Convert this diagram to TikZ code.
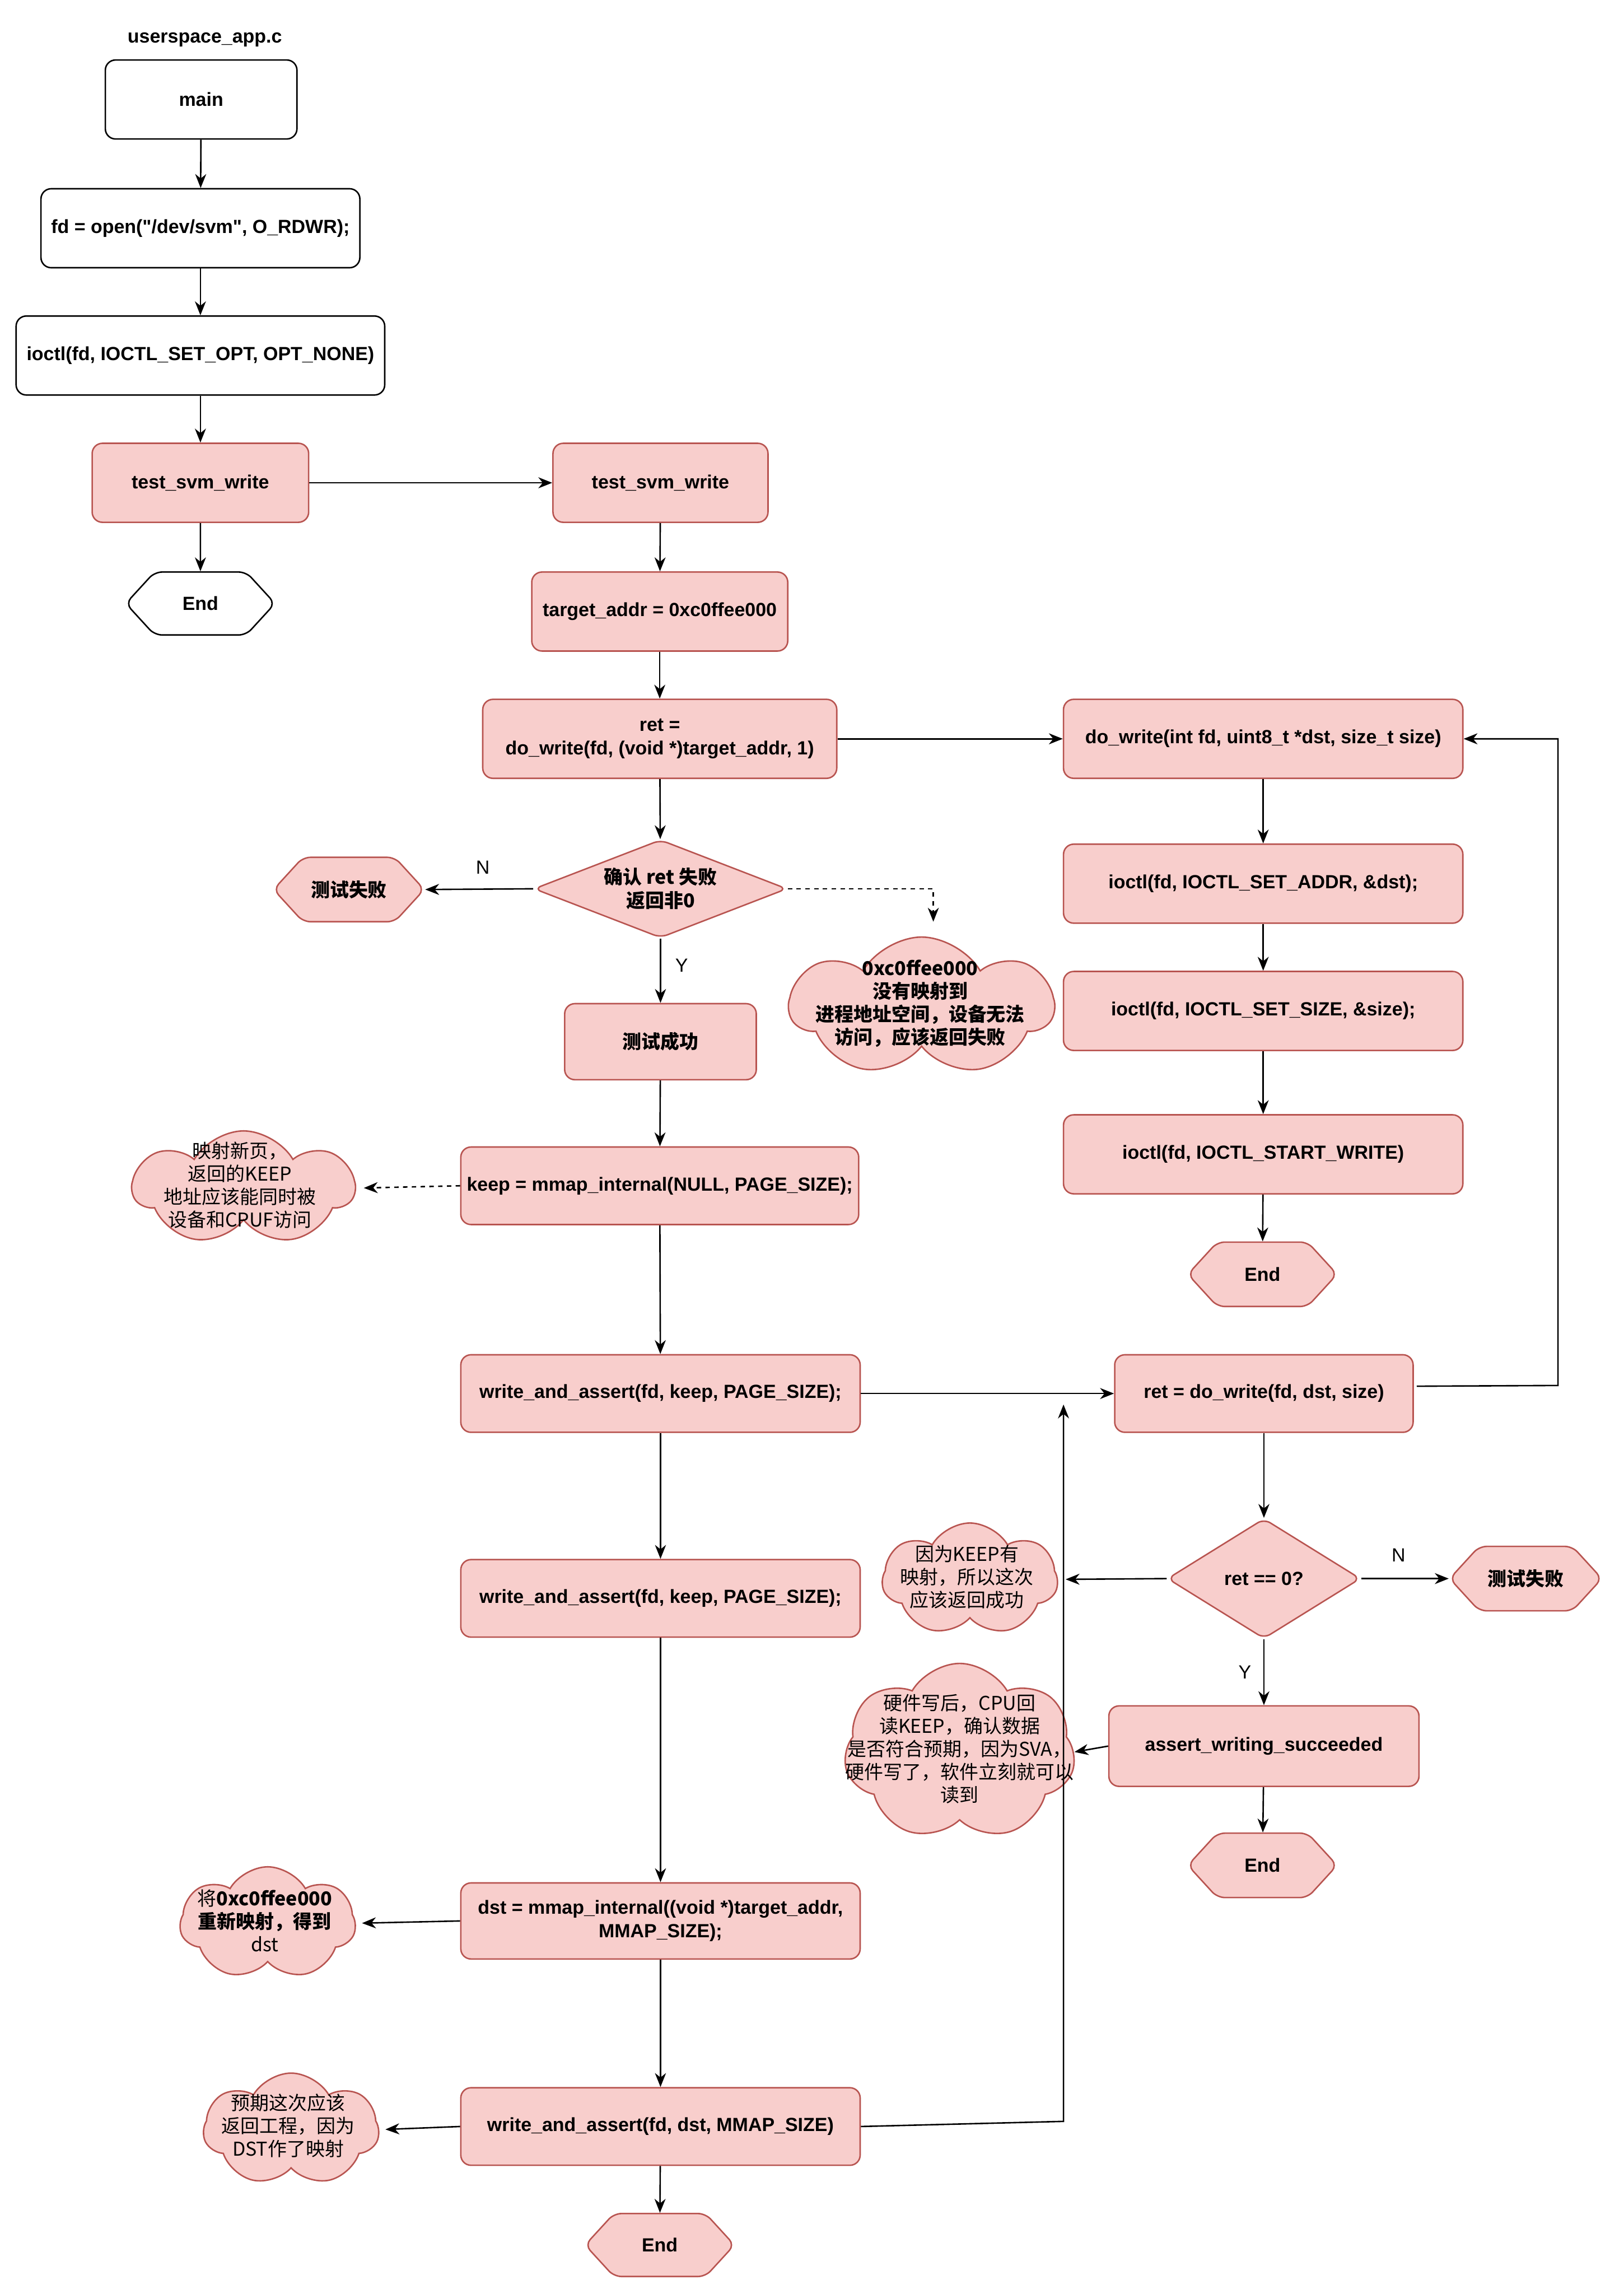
\documentclass[tikz,border=0pt]{standalone}
\usepackage{fontspec}
\setmainfont{Liberation Sans}
\newfontfamily\lat{Liberation Sans}
\newfontfamily\cjk{Noto Sans CJK SC}
\usetikzlibrary{shapes.geometric,shapes.symbols,arrows.meta,calc}
\definecolor{pfill}{HTML}{F8CECC}
\definecolor{pline}{HTML}{B85450}
\tikzset{
  sz/.style 2 args={minimum width=#1pt, minimum height=#2pt},
  fb/.style={font=\lat\fontsize{13}{16}\selectfont\bfseries},
  fcb/.style={font=\cjk\fontsize{13}{16}\selectfont\bfseries},
  base/.style={align=center, line width=1pt, inner sep=2pt},
  wbox/.style={base, fb, rectangle, draw=black, fill=white, rounded corners=7pt},
  pbox/.style={base, fb, rectangle, draw=pline, fill=pfill, rounded corners=7pt},
  hexa/.style={base, fb, signal, signal to=east and west, signal pointer angle=95, rounded corners=5pt},
  whex/.style={hexa, draw=black, fill=white},
  phex/.style={hexa, draw=pline, fill=pfill},
  pdia/.style={base, fcb, diamond, inner sep=0pt, draw=pline, fill=pfill, rounded corners=5pt},
  pcloud/.style={cloud, cloud puffs=7, cloud puff arc=120, cloud ignores aspect, draw=pline, fill=pfill, line width=1pt, inner sep=0pt},
  ctext/.style={font=\cjk\fontsize{13}{15.7}\selectfont, align=center, inner sep=0pt},
  ctextb/.style={font=\cjk\fontsize{13}{15.7}\selectfont\bfseries, align=center, inner sep=0pt},
  lbl/.style={font=\lat\fontsize{13}{15}\selectfont, inner sep=0pt},
  arr/.style={-{Stealth[length=9.5pt,width=7.5pt,inset=3pt]}, line width=1pt},
  darr/.style={arr, dashed, dash pattern=on 3pt off 3pt},
}
\begin{document}
\begin{tikzpicture}[x=1pt,y=-1pt]
\fill[white] (0,0) rectangle (1110,1568);
\useasboundingbox (0,0) rectangle (1110,1568);

% left column
\node[fb, inner sep=0pt] (title) at (140,27) {userspace\_app.c};
\node[wbox, sz={131}{54}] (main) at (137.5,68) {main};
\node[wbox, sz={218}{54}] (open) at (137,156) {fd = open("/dev/svm", O\_RDWR);};
\node[wbox, sz={252}{54}] (setopt) at (137,243) {ioctl(fd, IOCTL\_SET\_OPT, OPT\_NONE)};
\node[pbox, sz={148}{54}] (tsw1) at (137,330) {test\_svm\_write};
\node[whex, sz={102}{43}] (end1) at (137,412.5) {End};

% middle column
\node[pbox, sz={147}{54}] (tsw2) at (451.5,330) {test\_svm\_write};
\node[pbox, sz={175}{54}] (target) at (451,418) {target\_addr = 0xc0ffee000};
\node[pbox, sz={242}{54}] (retw) at (451,505) {ret =\\do\_write(fd, (void *)target\_addr, 1)};
\node[pdia, aspect=2.6, sz={173}{67}] (dia1) at (451.5,607.5) {确认 ret 失败\\返回非0};
\node[phex, fcb, sz={103}{44}] (fail1) at (238.5,608) {测试失败};
\node[lbl] (nl1) at (330,593) {N};
\node[lbl] (yl1) at (466,660) {Y};
\node[pbox, fcb, sz={131}{52}] (succ1) at (451.5,712) {测试成功};
\node[pbox, sz={272}{53}] (keep) at (451,810.5) {keep = mmap\_internal(NULL, PAGE\_SIZE);};
\node[pbox, sz={273}{53}] (wa1) at (451.5,952.5) {write\_and\_assert(fd, keep, PAGE\_SIZE);};
\node[pbox, sz={273}{53}] (wa2) at (451.5,1092.5) {write\_and\_assert(fd, keep, PAGE\_SIZE);};
\node[pbox, sz={273}{52}] (dstm) at (451.5,1313) {dst = mmap\_internal((void *)target\_addr,\\MMAP\_SIZE);};
\node[pbox, sz={273}{53}] (wa3) at (451.5,1453.5) {write\_and\_assert(fd, dst, MMAP\_SIZE)};
\node[phex, sz={102}{43}] (end4) at (451,1534.5) {End};

% right column
\node[pbox, sz={273}{54}] (dowr) at (863.5,505) {do\_write(int fd, uint8\_t *dst, size\_t size)};
\node[pbox, sz={273}{54}] (sadr) at (863.5,604) {ioctl(fd, IOCTL\_SET\_ADDR, \&dst);};
\node[pbox, sz={273}{54}] (ssz) at (863.5,691) {ioctl(fd, IOCTL\_SET\_SIZE, \&size);};
\node[pbox, sz={273}{54}] (sw) at (863.5,789) {ioctl(fd, IOCTL\_START\_WRITE)};
\node[phex, sz={102}{44}] (end2) at (863,871) {End};
\node[pbox, sz={204}{53}] (rdw) at (864,952.5) {ret = do\_write(fd, dst, size)};
\node[pdia, fb, aspect=1.6, sz={132}{82}] (dia2) at (864,1079) {ret == 0?};
\node[phex, fcb, sz={104}{44}] (fail2) at (1043,1079) {测试失败};
\node[lbl] (nl2) at (956,1063) {N};
\node[lbl] (yl2) at (851,1143) {Y};
\node[pbox, sz={212}{55}] (asrt) at (864,1193.5) {assert\_writing\_succeeded};
\node[phex, sz={102}{44}] (end3) at (863,1275) {End};

% clouds
\node[pcloud, sz={180}{95}] (c1) at (630,688) {};
\node[ctextb] (c1t) at (629,686) {0xc0ffee000\\没有映射到\\进程地址空间，设备无法\\访问，应该返回失败};
\node[pcloud, sz={151}{78}] (c2) at (166.5,812) {};
\node[ctext] (c2t) at (164,810) {映射新页，\\返回的KEEP\\地址应该能同时被\\设备和CPUF访问};
\node[pcloud, sz={120}{77}] (c3) at (663,1079.5) {};
\node[ctext] (c3t) at (661,1078) {因为KEEP有\\映射，所以这次\\应该返回成功};
\node[pcloud, sz={158}{121}] (c4) at (656,1197.5) {};
\node[ctext] (c4t) at (656,1195.5) {硬件写后，CPU回\\读KEEP，确认数据\\是否符合预期，因为SVA，\\硬件写了，软件立刻就可以\\读到};
\node[pcloud, sz={120}{77}] (c5) at (183,1314.5) {};
\node[ctext] (c5t) at (181,1313) {将{\bfseries 0xc0ffee000}\\{\bfseries 重新映射，得到}\\dst};
\node[pcloud, sz={120}{77}] (c6) at (199,1455.5) {};
\node[ctext] (c6t) at (197,1453) {预期这次应该\\返回工程，因为\\DST作了映射};

% helper coordinates
\coordinate (dd) at (638,630);
\coordinate (lp) at (1065,947);
\coordinate (b1) at (727,1450);
\coordinate (b2) at (727,960);

% connectors
\draw[arr] (main) -- (open);
\draw[arr] (open) -- (setopt);
\draw[arr] (setopt) -- (tsw1);
\draw[arr] (tsw1) -- (end1);
\draw[arr] (tsw1) -- (tsw2);
\draw[arr] (tsw2) -- (target);
\draw[arr] (target) -- (retw);
\draw[arr] (retw) -- (dia1);
\draw[arr] (retw.east) -- (dowr.west);
\draw[arr] (dia1.west) -- (fail1.east);
\draw[arr] (dia1.south) -- (succ1.north);
\draw[darr] (dia1.east) -| (dd);
\draw[arr] (succ1) -- (keep);
\draw[darr] (keep.west) -- ($(c2.east)+(5,0)$);
\draw[arr] (keep) -- (wa1);
\draw[arr] (wa1.east) -- (rdw.west);
\draw[arr] ($(rdw.east)+(2,-5)$) -- (lp) |- (dowr.east);
\draw[arr] (dowr) -- (sadr);
\draw[arr] (sadr) -- (ssz);
\draw[arr] (ssz) -- (sw);
\draw[arr] (sw) -- (end2);
\draw[arr] (rdw) -- (dia2);
\draw[arr] (dia2.west) -- ($(c3.east)+(5,0)$);
\draw[arr] (dia2.east) -- (fail2.west);
\draw[arr] (dia2.south) -- (asrt.north);
\draw[arr] (asrt.west) -- (c4.east);
\draw[arr] (asrt) -- (end3);
\draw[arr] (wa1) -- (wa2);
\draw[arr] (wa2) -- (dstm);
\draw[arr] (dstm.west) -- ($(c5.east)+(4,0)$);
\draw[arr] (dstm) -- (wa3);
\draw[arr] (wa3.west) -- ($(c6.east)+(4,0)$);
\draw[arr] (wa3.east) -- (b1) -- (b2);
\draw[arr] (wa3) -- (end4);
\end{tikzpicture}
\end{document}
